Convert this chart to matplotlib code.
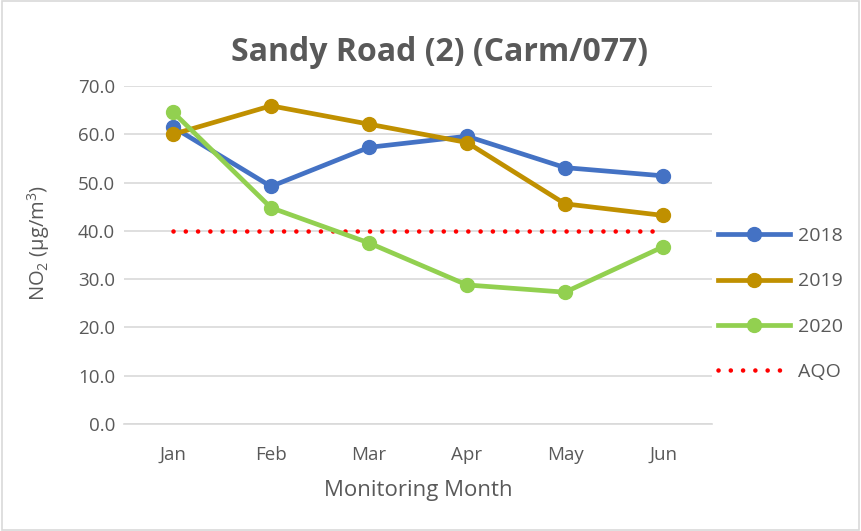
import matplotlib
matplotlib.use("Agg")
import matplotlib.pyplot as plt
from matplotlib.patches import Rectangle

# data
months = ["Jan", "Feb", "Mar", "Apr", "May", "Jun"]
no2_2018 = [61.5, 49.2, 57.3, 59.6, 53.1, 51.4]
no2_2019 = [60.0, 65.9, 62.1, 58.3, 45.6, 43.2]
no2_2020 = [64.6, 44.8, 37.5, 28.8, 27.3, 36.7]
aqo = [40.0, 40.0, 40.0, 40.0, 40.0, 40.0]

plt.rcParams['font.family'] = ['Open Sans', 'DejaVu Sans']
plt.rcParams['mathtext.fontset'] = 'custom'
plt.rcParams['mathtext.rm'] = 'Open Sans'
plt.rcParams['mathtext.it'] = 'Open Sans:italic'

txt = '#595959'
grid = '#D9D9D9'

fig = plt.figure(figsize=(8.61, 5.31), dpi=100)
ax = fig.add_axes([0.144, 0.2015, 0.683, 0.6365])

x = list(range(len(months)))
ax.plot(x, no2_2018, color='#4472C4', lw=3.4, marker='o', ms=10, label='2018', zorder=3)
ax.plot(x, no2_2019, color='#C09000', lw=3.4, marker='o', ms=10, label='2019', zorder=3)
ax.plot(x, no2_2020, color='#92D050', lw=3.4, marker='o', ms=10, label='2020', zorder=3)
ax.plot(x, aqo, color='#FF0000', lw=3.3, linestyle=(0, (0.01, 2.67)),
        dash_capstyle='round', label='AQO', zorder=2)

ax.set_xlim(-0.5, len(months) - 0.5)
ax.set_ylim(0, 70)
ax.set_yticks(range(0, 71, 10))
ax.set_yticklabels([f"{v:.1f}" for v in range(0, 71, 10)])
ax.set_xticks(x)
ax.set_xticklabels(months)
ax.tick_params(axis='both', length=0, labelsize=13.5, labelcolor=txt)
ax.tick_params(axis='y', pad=6.5)
ax.tick_params(axis='x', pad=16)

ax.grid(axis='y', color=grid, lw=1.2)
ax.set_axisbelow(True)
for s in ['top', 'right', 'left']:
    ax.spines[s].set_visible(False)
ax.spines['bottom'].set_color(grid)
ax.spines['bottom'].set_linewidth(1.2)

ax.set_title('Sandy Road (2) (Carm/077)', fontsize=23, fontweight='bold', color=txt,
             pad=18, x=0.536)
ax.set_xlabel('Monitoring Month', fontsize=16, color=txt, labelpad=11)
ax.set_ylabel('NO$_2$ (µg/m$^3$)', fontsize=14.5, color=txt)
ax.yaxis.set_label_coords(-0.122, 0.535)

leg = ax.legend(loc='center left', bbox_to_anchor=(0.997, 0.355), frameon=False,
                borderaxespad=0, fontsize=14, labelspacing=1.4,
                handlelength=3.7, handletextpad=0.4)
for t in leg.get_texts():
    t.set_color(txt)

fig.patches.append(Rectangle((0.002, 0.002), 0.996, 0.996, transform=fig.transFigure,
                             fill=False, edgecolor=grid, lw=1.2))

fig.savefig('out.png', dpi=100)
